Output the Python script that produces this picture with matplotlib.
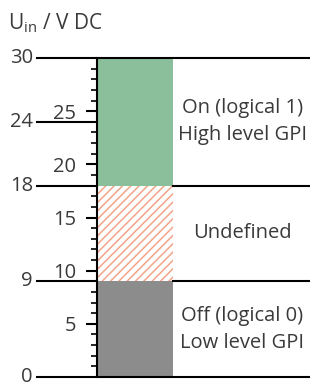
import matplotlib
matplotlib.use("Agg")
import matplotlib.pyplot as plt
from matplotlib.ticker import MultipleLocator

# data
levels = [0, 9, 18, 30]
zone_colors = ["#8c8c8c", "white", "#8bbf9b"]
zone_hatch = [None, "////", None]
zone_labels = ["Off (logical 0)\nLow level GPI", "Undefined", "On (logical 1)\nHigh level GPI"]
outer_ticks = [0, 9, 18, 24, 30]
inner_ticks = [5, 10, 15, 20, 25]

plt.rcParams["font.family"] = ["Open Sans", "DejaVu Sans"]
plt.rcParams["hatch.linewidth"] = 1.1
txt = "#3a3a3a"

W, H = 310, 386
fig = plt.figure(figsize=(W / 100, H / 100), dpi=100)
x0, y0, y1 = 97, 377, 58
ax = fig.add_axes([x0 / W, (H - y0) / H, (W - x0) / W, (y0 - y1) / H])
ax.set_xlim(0, 1)
ax.set_ylim(0, 30)
bw = 76 / (W - x0)
left = -60 / (W - x0)

# zones
for i in range(3):
    h = zone_hatch[i]
    ax.bar(0, levels[i + 1] - levels[i], bottom=levels[i], width=bw, align="edge",
           color=zone_colors[i], hatch=h, edgecolor="#f2a487" if h else zone_colors[i],
           linewidth=0, zorder=2)
    mid = (levels[i] + levels[i + 1]) / 2
    ax.text((bw + 1) / 2 + 1 / (W - x0), mid, zone_labels[i], ha="center", va="center",
            fontsize=14.5, color=txt, linespacing=1.45)

# horizontal lines
for v in outer_ticks:
    if v in (0, 30):
        ax.axhline(v, left, 1, color="black", lw=1.5, clip_on=False, zorder=3)
    else:
        ax.axhline(v, left, 0, color="black", lw=1.5, clip_on=False, zorder=3)
        if v in levels:
            ax.axhline(v, bw, 1, color="black", lw=1.5, clip_on=False, zorder=3)
    ax.text(left - 4 / (W - x0), v, str(v), ha="right", va="center",
            fontsize=14.5, color=txt, transform=ax.get_yaxis_transform())

# axis
for s in ["top", "right", "bottom"]:
    ax.spines[s].set_visible(False)
ax.spines["left"].set_linewidth(1.5)
ax.spines["left"].set_zorder(4)
ax.set_xticks([])
ax.yaxis.set_major_locator(MultipleLocator(5))
ax.yaxis.set_minor_locator(MultipleLocator(1))
ax.set_yticks(inner_ticks)
ax.set_yticklabels([str(v) for v in inner_ticks])
ax.tick_params(axis="y", which="major", length=8, width=1.5, pad=7,
               labelsize=14.5, labelcolor=txt)
ax.tick_params(axis="y", which="minor", length=4.3, width=1.2)

fig.text(8 / W, 1 - 29 / H, r"U$_\mathregular{in}$ / V DC", fontsize=15,
         color=txt, ha="left", va="baseline")

fig.savefig("out.png", dpi=100)
